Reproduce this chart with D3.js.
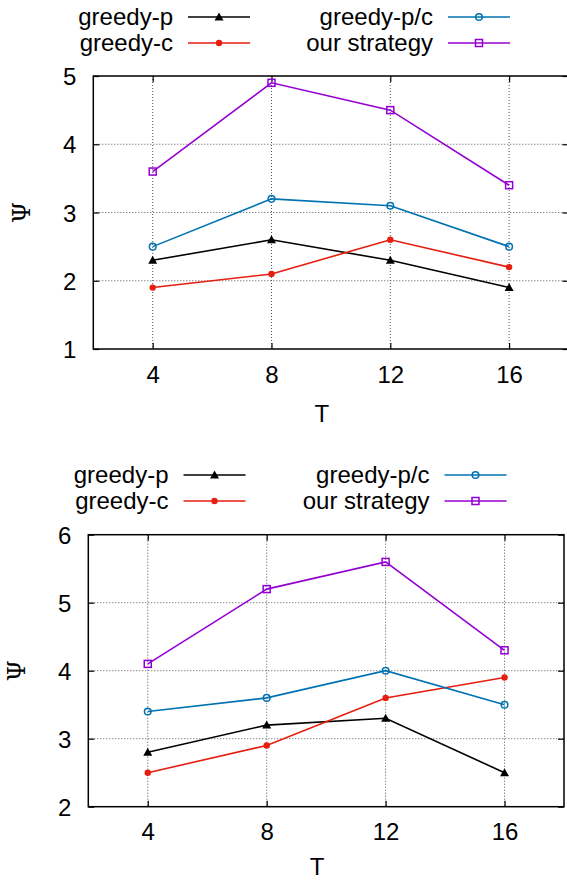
<!DOCTYPE html>
<html lang="en">
  <head>
    <meta charset="UTF-8" />
    <title>Psi vs T</title>
    <script src="https://d3js.org/d3.v7.min.js"></script>
    <style>
      body {
        margin: 0;
        background: #fff;
      }
      svg {
        display: block;
      }
      text {
        font-family: "Liberation Sans", Arial, sans-serif;
        fill: #000;
      }
    </style>
  </head>
  <body>
    <svg id="chart" width="567" height="880"></svg>
    <script>
      // shared x values and tick labels
      const T = [4, 8, 12, 16];
      const xTicks = [4, 8, 12, 16];
      const seriesNames = ["greedy-p", "greedy-c", "greedy-p/c", "our strategy"];
      const seriesColors = ["#000000", "#e51e10", "#0072b2", "#9400d3"];
      const seriesMarkers = ["triangle", "dot", "circle", "square"];

      // top panel
      const topGreedyP = [2.3, 2.6, 2.3, 1.9];
      const topGreedyC = [1.9, 2.1, 2.6, 2.2];
      const topGreedyPC = [2.5, 3.2, 3.1, 2.5];
      const topOurs = [3.6, 4.9, 4.5, 3.4];
      const topYTicks = [1, 2, 3, 4, 5];

      // bottom panel
      const botGreedyP = [2.8, 3.2, 3.3, 2.5];
      const botGreedyC = [2.5, 2.9, 3.6, 3.9];
      const botGreedyPC = [3.4, 3.6, 4.0, 3.5];
      const botOurs = [4.1, 5.2, 5.6, 4.3];
      const botYTicks = [2, 3, 4, 5, 6];

      const svg = d3.select("#chart");

      function drawPanel(cfg) {
        const g = svg.append("g");
        const x = d3.scaleLinear().domain([2, 18]).range([cfg.left, cfg.right]);
        const y = d3
          .scaleLinear()
          .domain(d3.extent(cfg.yTicks))
          .range([cfg.bottom, cfg.top]);

        // grid
        g.selectAll("line.gx")
          .data(xTicks)
          .join("line")
          .attr("x1", (d) => x(d))
          .attr("x2", (d) => x(d))
          .attr("y1", cfg.top)
          .attr("y2", cfg.bottom)
          .attr("stroke", "#555")
          .attr("stroke-width", 1)
          .attr("stroke-dasharray", "1,2");
        g.selectAll("line.gy")
          .data(cfg.yTicks.slice(1, -1))
          .join("line")
          .attr("x1", cfg.left)
          .attr("x2", cfg.right)
          .attr("y1", (d) => y(d))
          .attr("y2", (d) => y(d))
          .attr("stroke", "#555")
          .attr("stroke-width", 1)
          .attr("stroke-dasharray", "1,2");

        // axes with inner ticks, mirrored
        const tk = 6;
        const fmt = d3.format("d");
        const axB = g.append("g").attr("transform", `translate(0,${cfg.bottom})`)
          .call(d3.axisBottom(x).tickValues(xTicks).tickSize(-tk).tickFormat(fmt));
        const axT = g.append("g").attr("transform", `translate(0,${cfg.top})`)
          .call(d3.axisTop(x).tickValues(xTicks).tickSize(-tk).tickFormat(""));
        const axL = g.append("g").attr("transform", `translate(${cfg.left},0)`)
          .call(d3.axisLeft(y).tickValues(cfg.yTicks).tickSize(-tk).tickFormat(fmt));
        const axR = g.append("g").attr("transform", `translate(${cfg.right},0)`)
          .call(d3.axisRight(y).tickValues(cfg.yTicks).tickSize(-tk).tickFormat(""));
        [axB, axT, axL, axR].forEach((a) => {
          a.select(".domain").remove();
          a.selectAll(".tick line").attr("stroke", "#000").attr("stroke-width", 1.2);
          a.selectAll("text")
            .style("font-family", "'Liberation Sans', Arial, sans-serif")
            .style("font-size", "24px")
            .attr("fill", "#000");
        });
        axL.selectAll("text").attr("x", -17).attr("dy", "0.36em");
        axB.selectAll("text").attr("y", 25).attr("dy", "0.36em");

        // border
        g.append("rect")
          .attr("x", cfg.left)
          .attr("y", cfg.top)
          .attr("width", cfg.right - cfg.left)
          .attr("height", cfg.bottom - cfg.top)
          .attr("fill", "none")
          .attr("stroke", "#000")
          .attr("stroke-width", 1.5);

        // series
        const line = d3
          .line()
          .x((d, i) => x(T[i]))
          .y((d) => y(d));
        cfg.series.forEach((vals, s) => {
          g.append("path")
            .datum(vals)
            .attr("d", line)
            .attr("fill", "none")
            .attr("stroke", seriesColors[s])
            .attr("stroke-width", 1.6);
          vals.forEach((v, i) => drawMarker(g, seriesMarkers[s], x(T[i]), y(v), seriesColors[s]));
        });

        // axis titles
        g.append("text")
          .attr("x", (cfg.left + cfg.right) / 2 - 9)
          .attr("y", cfg.bottom + cfg.tOff)
          .attr("dy", "0.36em")
          .attr("text-anchor", "middle")
          .style("font-size", "24px")
          .text("T");
        g.append("text")
          .attr("transform", `translate(${cfg.left - 72},${(cfg.top + cfg.bottom) / 2}) rotate(-90)`)
          .attr("dy", "0.36em")
          .attr("text-anchor", "middle")
          .style("font-family", "'DejaVu Serif', 'Liberation Serif', serif")
          .style("font-size", "24px")
          .text("Ψ");

        // legend: two columns, two rows
        seriesNames.forEach((name, s) => {
          const col = s < 2 ? 0 : 1;
          const row = s % 2;
          const ly = cfg.legY + row * 26;
          const tx = cfg.legX[col];
          const lx = tx + 15;
          g.append("text")
            .attr("x", tx)
            .attr("y", ly)
            .attr("dy", "0.35em")
            .attr("text-anchor", "end")
            .style("font-size", "24px")
            .text(name);
          g.append("line")
            .attr("x1", lx)
            .attr("x2", lx + 62)
            .attr("y1", ly)
            .attr("y2", ly)
            .attr("stroke", seriesColors[s])
            .attr("stroke-width", 1.6);
          drawMarker(g, seriesMarkers[s], lx + 31, ly, seriesColors[s]);
        });
      }

      function drawMarker(g, type, cx, cy, color) {
        if (type === "triangle") {
          g.append("path")
            .attr("d", `M${cx},${cy - 4.5}L${cx + 4.5},${cy + 3.5}L${cx - 4.5},${cy + 3.5}Z`)
            .attr("fill", color);
        } else if (type === "dot") {
          g.append("circle").attr("cx", cx).attr("cy", cy).attr("r", 3.2).attr("fill", color);
        } else if (type === "circle") {
          g.append("circle")
            .attr("cx", cx)
            .attr("cy", cy)
            .attr("r", 3.3)
            .attr("fill", "none")
            .attr("stroke", color)
            .attr("stroke-width", 1.5);
        } else {
          g.append("rect")
            .attr("x", cx - 3.5)
            .attr("y", cy - 3.5)
            .attr("width", 7)
            .attr("height", 7)
            .attr("fill", "none")
            .attr("stroke", color)
            .attr("stroke-width", 1.5);
        }
      }

      drawPanel({
        left: 93.3,
        right: 568.5,
        top: 76,
        bottom: 349,
        yTicks: topYTicks,
        series: [topGreedyP, topGreedyC, topGreedyPC, topOurs],
        legX: [173, 433],
        legY: 17,
        tOff: 64,
      });

      drawPanel({
        left: 88.3,
        right: 564,
        top: 534.7,
        bottom: 806.7,
        yTicks: botYTicks,
        series: [botGreedyP, botGreedyC, botGreedyPC, botOurs],
        legX: [168.5, 429.5],
        legY: 475,
        tOff: 60,
      });
    </script>
  </body>
</html>
